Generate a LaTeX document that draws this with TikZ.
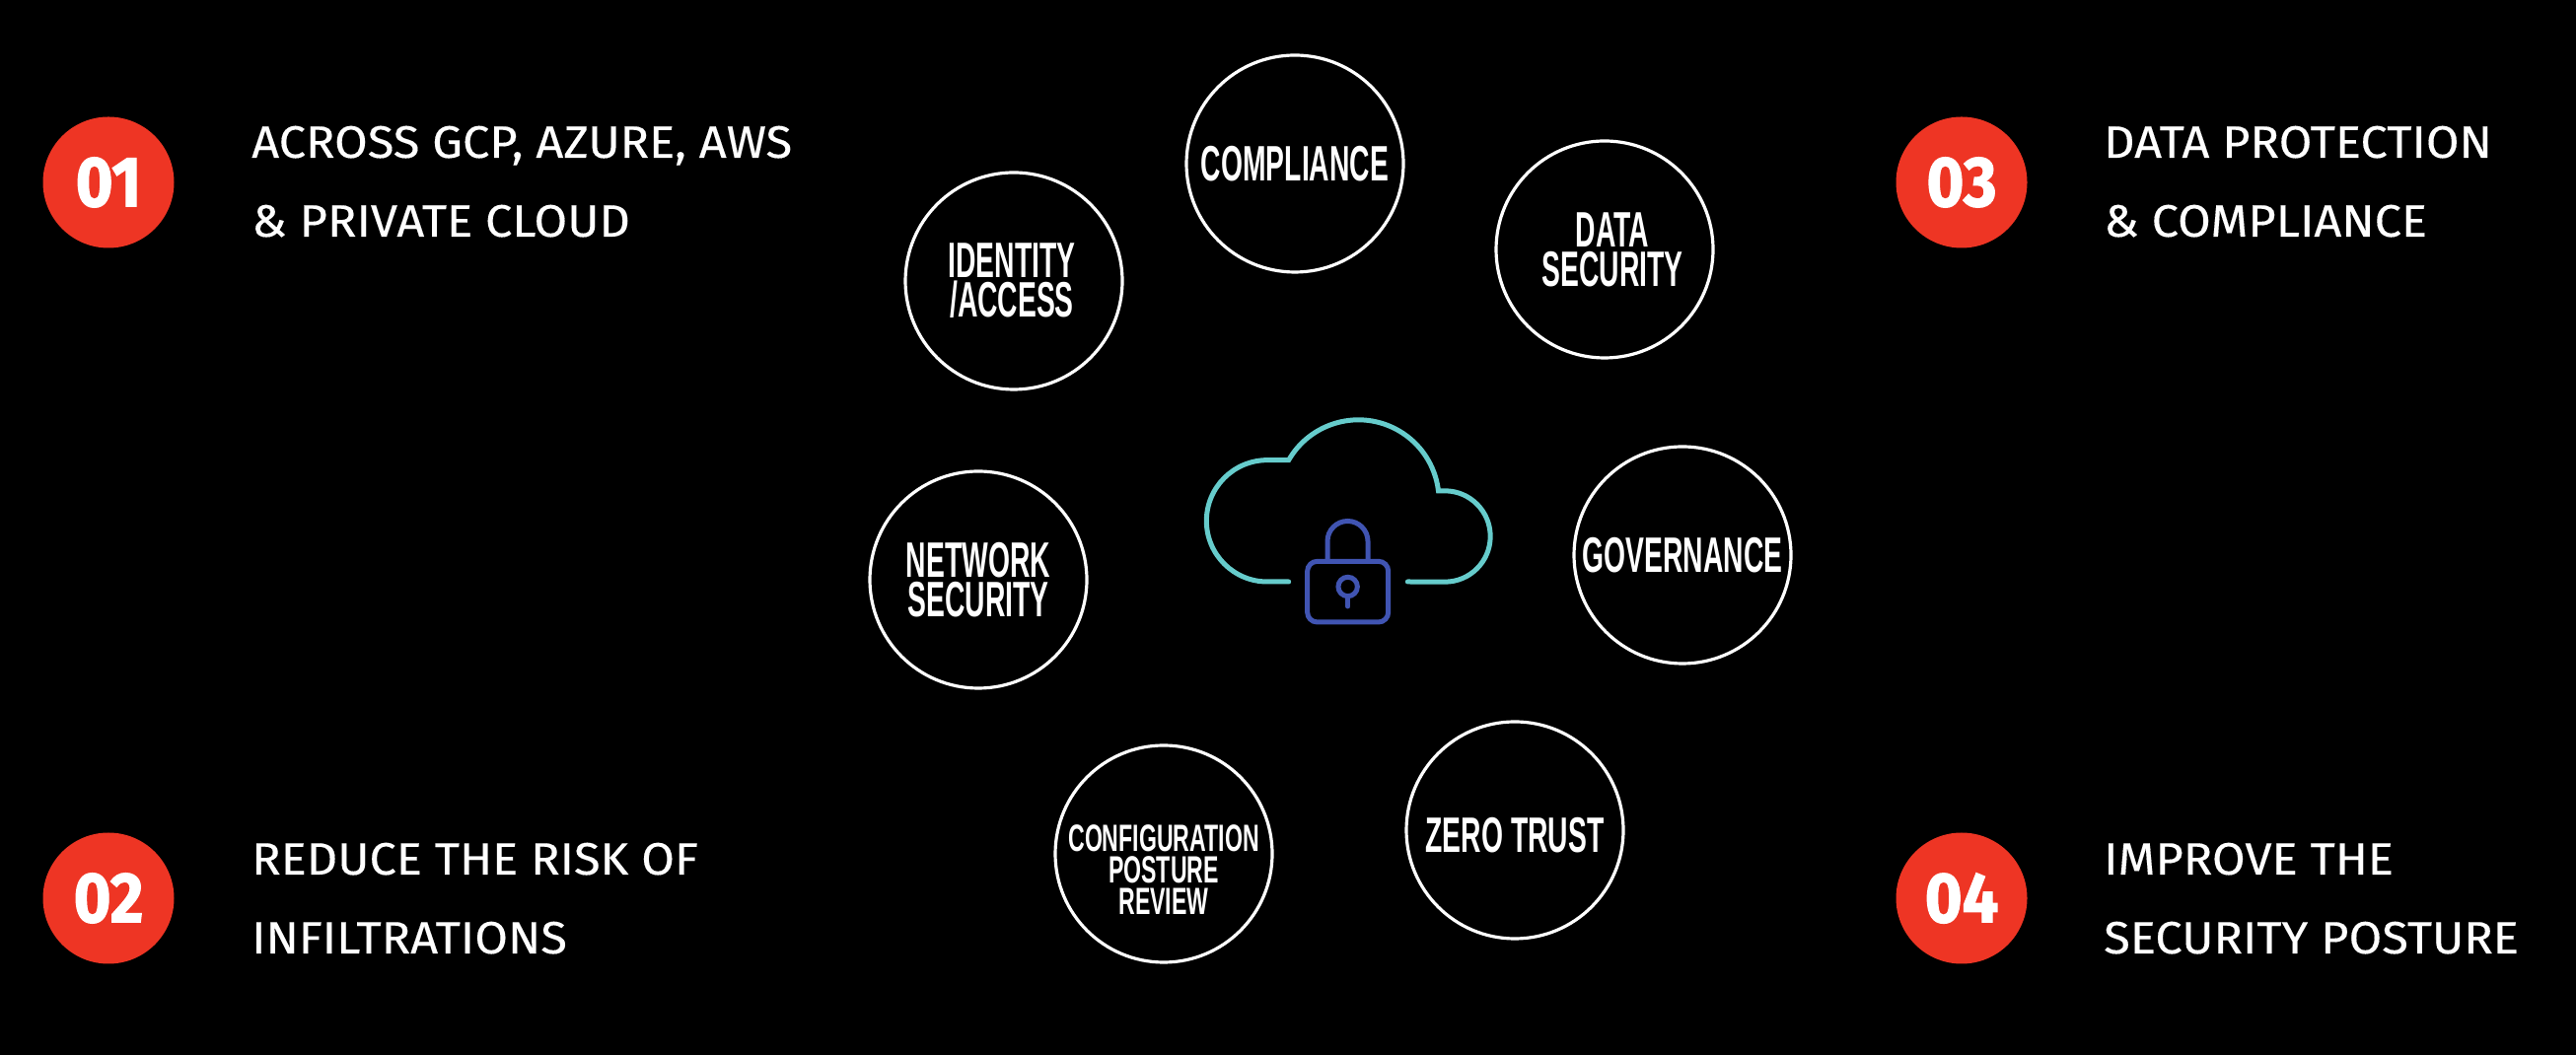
\documentclass[tikz,border=0pt]{standalone}
\usepackage{fontspec}
\setmainfont[FakeStretch=1.06,FakeBold=0.25]{Fira Sans}
\newfontfamily\narrowf[FakeStretch=0.56]{Liberation Sans}
\newfontfamily\narrowg[FakeStretch=0.6]{Liberation Sans}
\newfontfamily\numf[FakeStretch=0.9,FakeBold=1.6]{Fira Sans}
\definecolor{cloudc}{HTML}{66CCCC}
\definecolor{lockc}{HTML}{4054B2}
\definecolor{redc}{HTML}{EE3524}
\tikzset{
 ring/.style={circle,draw=white,line width=3.2pt,minimum size=220pt,inner sep=0pt},
 lab/.style={text=white,align=center,inner sep=0pt,font=\narrowf\bfseries\fontsize{50.5}{40}\selectfont},
 labsmall/.style={text=white,align=center,inner sep=0pt,font=\narrowg\bfseries\fontsize{38.5}{32}\selectfont},
 badge/.style={circle,fill=redc,minimum size=133pt,inner sep=0pt,text=white,font=\numf\bfseries\fontsize{72}{72}\selectfont},
 head/.style={text=white,anchor=base west,inner sep=0pt,font=\fontsize{46}{46}\selectfont},
 cloudl/.style={draw=cloudc,line width=5pt,line cap=round,line join=miter},
 lockl/.style={draw=lockc,line width=5pt,line cap=round}
}
\begin{document}
\begin{tikzpicture}[x=1pt,y=1pt]
\fill[black] (0,0) rectangle (2612,1070);
\useasboundingbox (0,0) rectangle (2612,1070);
% badges
\node[badge] (b1) at (110,885) {01};
\node[badge] (b2) at (110,159) {02};
\node[badge] (b3) at (1989,885) {03};
\node[badge] (b4) at (1989,159) {04};
% texts
\node[head] (t1a) at (255,910) {ACROSS GCP, AZURE, AWS};
\node[head] (t1b) at (255,830) {\& PRIVATE CLOUD};
\node[head] (t2a) at (255,183) {REDUCE THE RISK OF};
\node[head] (t2b) at (255,103) {INFILTRATIONS};
\node[head] (t3a) at (2133,910) {DATA PROTECTION};
\node[head] (t3b) at (2133,830) {\& COMPLIANCE};
\node[head] (t4a) at (2133,183) {IMPROVE THE};
\node[head] (t4b) at (2133,103) {SECURITY POSTURE};
% rings
\node[ring] (c1) at (1313,904) {};
\node[ring] (c2) at (1627,817) {};
\node[ring] (c3) at (1028,785) {};
\node[ring] (c4) at (992,482) {};
\node[ring] (c5) at (1706,507) {};
\node[ring] (c6) at (1536,228) {};
\node[ring] (c7) at (1180,204) {};
\node[lab] at (c1) {COMPLIANCE};
\node[lab,xshift=8pt] at (c2) {DATA\\SECURITY};
\node[lab,xshift=-2pt] at (c3) {IDENTITY\\/ACCESS};
\node[lab] at (c4) {NETWORK\\SECURITY};
\node[lab] at (c5) {GOVERNANCE};
\node[lab,yshift=-5pt] at (c6) {ZERO TRUST};
\node[labsmall,yshift=-16pt] at (c7) {CONFIGURATION\\POSTURE\\REVIEW};
% cloud
\begin{scope}[shift={(1180,670)},x=0.33333pt,y=0.33333pt]
\draw[cloudl] (380,-570) -- (315,-570) arc[start angle=270,end angle=90,radius=61.67pt]
  -- (380,-200) arc[start angle=150,end angle=6.8,radius=81.67pt]
  -- (855,-293.5) arc[start angle=90,end angle=-90,radius=46.17pt] -- (742,-570);
\draw[lockl,rounded corners=10pt] (437,-508) rectangle (683,-693);
\draw[lockl] (498,-505) -- (498,-447) arc[start angle=180,end angle=0,radius=20.5pt] -- (621,-505);
\draw[lockl] (560,-585) circle[radius=9.7pt];
\draw[lockl] (560,-615) -- (560,-645);
\end{scope}
\end{tikzpicture}
\end{document}
